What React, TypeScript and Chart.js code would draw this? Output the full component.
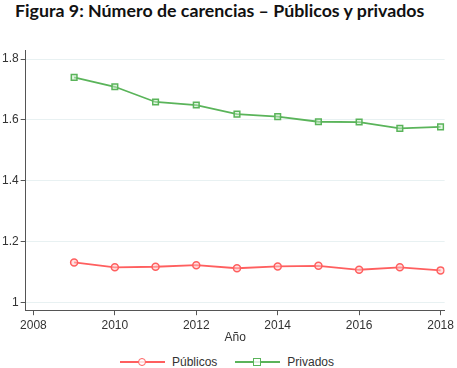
import React, { useEffect, useRef } from "react";
import { Chart, registerables } from "chart.js";

Chart.register(...registerables);

const TITLE = "Figura 9: Número de carencias – Públicos y privados";
const YEARS = [2009, 2010, 2011, 2012, 2013, 2014, 2015, 2016, 2017, 2018];
const PUBLICOS = [1.131, 1.115, 1.117, 1.122, 1.112, 1.118, 1.12, 1.107, 1.115, 1.105];
const PRIVADOS = [1.74, 1.709, 1.659, 1.649, 1.619, 1.611, 1.594, 1.593, 1.572, 1.577];
const X_TICKS = [2008, 2010, 2012, 2014, 2016, 2018];
const Y_TICKS = [1, 1.2, 1.4, 1.6, 1.8];
const RED = "rgb(255,95,95)";
const GREEN = "rgb(90,180,90)";
const FONT = "'Liberation Sans', Arial, sans-serif";

export default function App() {
  const ref = useRef<HTMLCanvasElement>(null);
  useEffect(() => {
    const ctx = ref.current!;
    const chart = new Chart(ctx, {
      type: "line",
      data: {
        datasets: [
          {
            label: "Públicos",
            data: YEARS.map((x, i) => ({ x, y: PUBLICOS[i] })),
            borderColor: RED,
            backgroundColor: "rgba(255,255,255,0)",
            borderWidth: 1.8,
            pointStyle: "circle",
            pointRadius: 3.5,
            pointBorderWidth: 1.5,
            pointBorderColor: RED,
            pointBackgroundColor: "rgba(255,200,200,0.5)",
          },
          {
            label: "Privados",
            data: YEARS.map((x, i) => ({ x, y: PRIVADOS[i] })),
            borderColor: GREEN,
            backgroundColor: "rgba(255,255,255,0)",
            borderWidth: 1.8,
            pointStyle: "rect",
            pointRadius: 4,
            pointBorderWidth: 1.5,
            pointBorderColor: GREEN,
            pointBackgroundColor: "rgba(200,235,200,0.5)",
          },
        ],
      },
      options: {
        animation: false,
        responsive: false,
        maintainAspectRatio: false,
        layout: { padding: { left: 0, right: 10, top: 20, bottom: 0 } },
        plugins: { legend: { display: false }, tooltip: { enabled: false } },
        scales: {
          x: {
            type: "linear",
            min: 2007.81,
            max: 2018.1,
            afterBuildTicks: (s: any) => {
              s.ticks = X_TICKS.map((v) => ({ value: v }));
            },
            ticks: {
              callback: (v: any) => String(v),
              color: "#333",
              font: { family: FONT, size: 12 },
              padding: 3,
              maxRotation: 0,
            },
            grid: { drawOnChartArea: false, tickLength: 5, color: "#555" },
            border: { color: "#555", width: 1 },
            title: {
              display: true,
              text: "Año",
              color: "#333",
              font: { family: FONT, size: 12 },
              padding: { top: -5, bottom: 0 },
            },
          },
          y: {
            type: "linear",
            min: 0.974,
            max: 1.83,
            afterBuildTicks: (s: any) => {
              s.ticks = Y_TICKS.map((v) => ({ value: v }));
            },
            ticks: {
              callback: (v: any) => String(v),
              color: "#333",
              font: { family: FONT, size: 12 },
              padding: 2,
            },
            grid: {
              drawOnChartArea: true,
              tickLength: 5,
              color: "#e8f1f2",
              tickColor: "#555",
            },
            border: { color: "#555", width: 1 },
          },
        },
      },
    });
    return () => chart.destroy();
  }, []);

  const legendItem = (color: string, label: string, round: boolean) => (
    <div style={{ display: "flex", alignItems: "center", marginRight: 18 }}>
      <div style={{ position: "relative", width: 45, height: 10, marginRight: 7 }}>
        <div style={{ position: "absolute", left: 0, right: 0, top: 4, height: 2, background: color }} />
        <div
          style={{
            position: "absolute",
            left: 18,
            top: 1,
            width: 6,
            height: 6,
            border: `1.5px solid ${color}`,
            borderRadius: round ? "50%" : 0,
            background: "rgba(255,255,255,0.8)",
          }}
        />
      </div>
      <span style={{ fontFamily: FONT, fontSize: 12, color: "#333" }}>{label}</span>
    </div>
  );

  return (
    <div style={{ position: "fixed", left: 0, top: 0, width: 457, height: 368, background: "#fff", overflow: "hidden" }}>
      <div
        style={{
          position: "absolute",
          left: 15,
          top: 0,
          fontFamily: "Lato, 'Open Sans', sans-serif",
          fontWeight: 700,
          fontSize: 17.8,
          lineHeight: 1.2,
          color: "#111",
          whiteSpace: "nowrap",
        }}
      >
        {TITLE}
      </div>
      <canvas ref={ref} width={457} height={315} style={{ position: "absolute", left: 0, top: 30, width: 457, height: 315 }} />
      <div style={{ position: "absolute", left: 120, top: 355, display: "flex", alignItems: "center" }}>
        {legendItem(RED, "Públicos", true)}
        {legendItem(GREEN, "Privados", false)}
      </div>
    </div>
  );
}
